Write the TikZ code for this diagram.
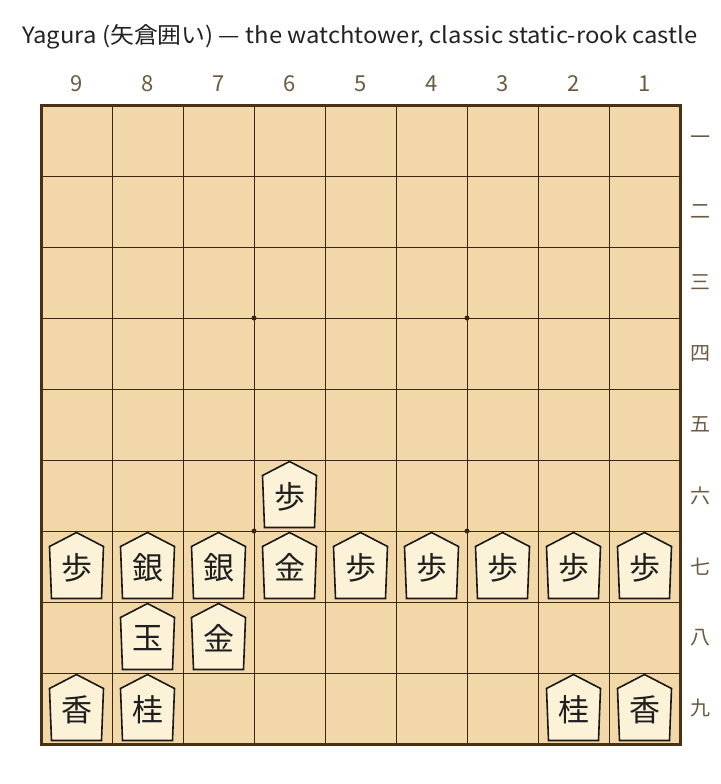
\documentclass[tikz,border=0pt]{standalone}
\usepackage{fontspec}
\setmainfont{Noto Sans CJK JP}
\newfontfamily\titlefont[FakeStretch=1.06]{Noto Sans CJK JP}
\definecolor{boardfill}{HTML}{F2D8A8}
\definecolor{boardline}{HTML}{3A2510}
\definecolor{boardedge}{HTML}{4A3014}
\definecolor{piecefill}{HTML}{FCF2D8}
\definecolor{labelcol}{HTML}{6B5A3E}
\definecolor{titlecol}{HTML}{222222}
\tikzset{
  gridline/.style={draw=boardline, line width=1pt},
  edgeline/.style={draw=boardedge, line width=3pt},
  stardot/.style={circle, fill=boardline, inner sep=0pt, minimum size=5pt},
  piecebody/.style={fill=piecefill, draw=black!90, line width=1.6pt, line join=miter},
  piecechar/.style={font=\fontsize{31}{31}\selectfont, text=black!88, inner sep=0pt},
  collabel/.style={font=\fontsize{22}{22}\selectfont, text=labelcol},
  rowlabel/.style={font=\fontsize{20}{20}\selectfont, text=labelcol},
  titletext/.style={font=\titlefont\fontsize{22.5}{22.5}\selectfont, text=titlecol}
}
\begin{document}
\begin{tikzpicture}[x=1pt,y=-1pt]
\useasboundingbox (0,0) rectangle (720,784);
\node[titletext] (title) at (360,37) {Yagura (矢倉囲い) — the watchtower, classic static-rook castle};
\fill[boardfill] (41,105) rectangle (680,744);
\foreach \i in {1,...,8} {
  \draw[gridline] ({41+71*\i},105) -- ({41+71*\i},744);
  \draw[gridline] (41,{105+71*\i}) -- (680,{105+71*\i});
}
\draw[edgeline] (41,105) rectangle (680,744);
\node[stardot] (s1) at (254,318) {};
\node[stardot] (s2) at (467,318) {};
\node[stardot] (s3) at (254,531) {};
\node[stardot] (s4) at (467,531) {};
\foreach \c in {1,...,9} {
  \node[collabel] (c\c) at ({41+71*(9-\c+0.5)},84) {\c};
}
\foreach \r/\k in {1/一,2/二,3/三,4/四,5/五,6/六,7/七,8/八,9/九} {
  \node[rowlabel] (r\r) at (700,{105+71*(\r-0.5)}) {\k};
}
\foreach \c/\r/\k in {6/6/歩,9/7/歩,8/7/銀,7/7/銀,6/7/金,5/7/歩,4/7/歩,3/7/歩,2/7/歩,1/7/歩,8/8/玉,7/8/金,9/9/香,8/9/桂,2/9/桂,1/9/香} {
  \pgfmathsetmacro{\cx}{41+71*(9-\c+0.5)}
  \pgfmathsetmacro{\cy}{105+71*(\r-0.5)}
  \draw[piecebody] (\cx,\cy-34) -- (\cx+27,\cy-20) -- (\cx+25,\cy+32) -- (\cx-25,\cy+32) -- (\cx-27,\cy-20) -- cycle;
  \node[piecechar] (p\c\r) at (\cx,\cy+1) {\k};
}
\end{tikzpicture}
\end{document}
